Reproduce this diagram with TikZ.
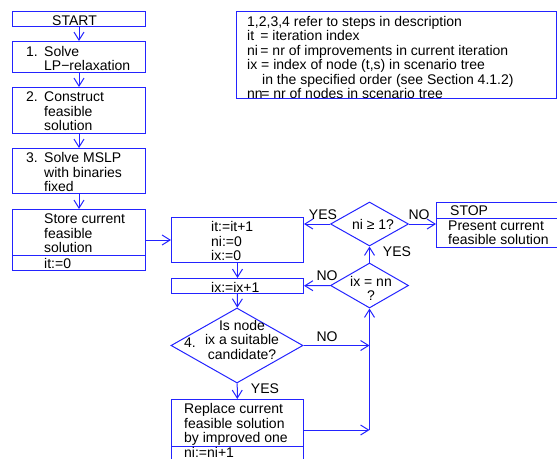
\documentclass[tikz,border=0pt]{standalone}
\usepackage{fontspec}
\setmainfont{Liberation Sans}
\usepackage{xcolor}
\usepackage{tikz}
\usetikzlibrary{arrows.meta,positioning,shapes.geometric}
\definecolor{flowblue}{RGB}{35,35,255}
\newcommand{\lns}[1]{\begin{tabular}[t]{@{}l@{}}#1\end{tabular}}
\newcommand{\clns}[1]{\begin{tabular}[t]{@{}c@{}}#1\end{tabular}}
\tikzset{
  box/.style={draw=flowblue,line width=1pt,rectangle,inner sep=0pt,anchor=north west},
  dia/.style={draw=flowblue,line width=1pt,diamond,inner sep=0pt},
  flow/.style={draw=flowblue,line width=1pt,-{Straight Barb[length=8pt,width=10pt]}},
  divline/.style={draw=flowblue,line width=1pt},
  txt/.style={inner sep=0pt,anchor=base west,font=\fontsize{14}{14.5}\selectfont},
  ctxt/.style={txt,anchor=base}
}
\begin{document}
\begin{tikzpicture}[x=1pt,y=-1pt]
\useasboundingbox (0,0) rectangle (557,458);
\clip (0,0) rectangle (557,458);
%%the left column of boxes
\node[box,minimum width=133pt,minimum height=15pt] (start) at (12,11) {};
\node[box,minimum width=133pt,minimum height=31pt] (solvelp) at (12,41) {};
\node[box,minimum width=133pt,minimum height=46pt] (constr) at (12,87) {};
\node[box,minimum width=133pt,minimum height=45pt] (mslp) at (12,148) {};
\node[box,minimum width=133pt,minimum height=61pt] (store) at (12,209) {};
\draw[divline] ([yshift=-46pt]store.north west) -- ([yshift=-46pt]store.north east);
%%the loop
\node[box,minimum width=132pt,minimum height=45pt] (itbox) at (171,217) {};
\node[box,minimum width=132pt,minimum height=15pt] (ixbox) at (171,278) {};
\node[dia,minimum width=132pt,minimum height=75pt] (cand) at (237,345.5) {};
\node[box,minimum width=132pt,minimum height=61pt] (repl) at (171,399) {};
\draw[divline] ([yshift=-47pt]repl.north west) -- ([yshift=-47pt]repl.north east);
\node[dia,minimum width=78pt,minimum height=45pt] (last) at (369.5,285.5) {};
\node[dia,minimum width=78pt,minimum height=44pt] (impr) at (369.5,224) {};
\node[box,minimum width=190pt,minimum height=45pt] (stop) at (436,202) {};
\draw[divline] ([yshift=-16pt]stop.north west) -- ([yshift=-16pt]stop.north east);
%%legend at the top
\node[box,minimum width=320pt,minimum height=87pt] (legend) at (236,11) {};
%%Now for the arrows
\draw[flow] (start) -- (solvelp);
\draw[flow] (solvelp) -- (constr);
\draw[flow] (constr) -- (mslp);
\draw[flow] (mslp) -- (store);
\draw[flow] (store) -- (itbox);
\draw[flow] (itbox) -- (ixbox);
\draw[flow] (ixbox) -- (cand);
\draw[flow] (cand) -- (repl);
\path (cand.east -| last.south) coordinate (c1);
\path (repl.east -| last.south) coordinate (c2);
\draw[flow] (cand.east) -- (c1);
\draw[flow] (repl.east) -- (c2);
\draw[flow] (c2) -- (last.south);
\draw[flow] (last) -- (ixbox);
\draw[flow] (last) -- (impr);
\draw[flow] (impr.west) -- (impr.west -| itbox.east);
\draw[flow] (impr.east) -- (impr.east -| stop.west);
%%finally the text
\node[txt] (tstart) at (52,25) {START};
\node[txt] (n1) at (26,56) {1.};
\node[txt] (t1) at (44,56) {\lns{Solve\\LP−relaxation}};
\node[txt] (n2) at (26,101.5) {2.};
\node[txt] (t2) at (44,101.5) {\lns{Construct\\feasible\\solution}};
\node[txt] (n3) at (26,162.5) {3.};
\node[txt] (t3) at (44,162.5) {\lns{Solve MSLP\\with binaries\\fixed}};
\node[txt] (tstore) at (44,223.5) {\lns{Store current\\feasible\\solution}};
\node[txt] (tit0) at (44,268) {it:=0};
\node[txt] (tit) at (211,231.5) {\lns{it:=it+1\\ni:=0\\ix:=0}};
\node[txt] (tix) at (211,292) {ix:=ix+1};
\node[ctxt] (tcand) at (242,330) {\clns{Is node\\ix a suitable\\candidate?}};
\node[txt] (n4) at (184,347) {4.};
\node[txt] (trepl) at (184,413.5) {\lns{Replace current\\feasible solution\\by improved one}};
\node[txt] (tni) at (184,457) {ni:=ni+1};
\node[ctxt] (tlast) at (371,286) {\clns{ix = nn\\?}};
\node[ctxt] (timpr) at (373,229) {ni ≥ 1?};
\node[txt] (tstop) at (450,215) {STOP};
\node[txt] (tpres) at (448,230) {\lns{Present current\\feasible solution}};
\node[txt] (tlegend) at (247,26) {\lns{1,2,3,4 refer to steps in description\\
  it \,= iteration index\\
  ni\,= nr of improvements in current iteration\\
  ix = index of node (t,s) in scenario tree\\
  \hspace*{15pt}in the specified order (see Section 4.1.2)\\
  nn\kern-1.5pt= nr of nodes in scenario tree}};
\node[ctxt] (yes1) at (323,219) {YES};
\node[ctxt] (no1) at (419,219) {NO};
\node[ctxt] (yes2) at (397,256) {YES};
\node[ctxt] (no2) at (327,280) {NO};
\node[ctxt] (no3) at (327,341) {NO};
\node[ctxt] (yes3) at (265,393) {YES};
\end{tikzpicture}
\end{document}
